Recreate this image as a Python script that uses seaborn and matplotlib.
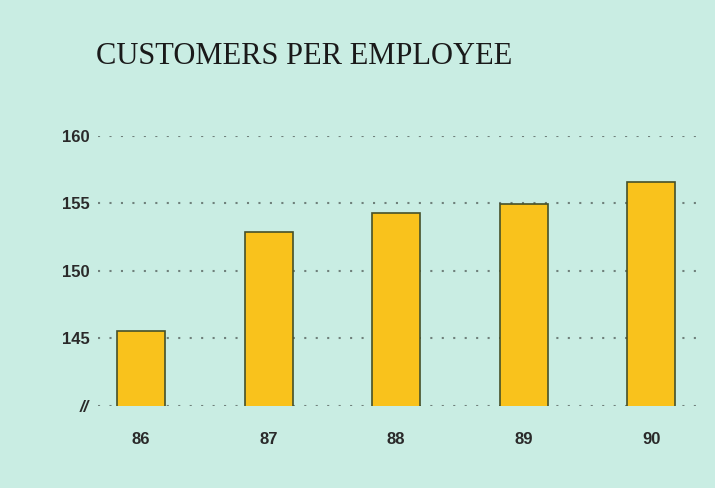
import matplotlib
matplotlib.use("Agg")
import matplotlib.pyplot as plt
import seaborn as sns
import pandas as pd

years = ["86", "87", "88", "89", "90"]
customers = [145.55, 152.9, 154.3, 154.95, 156.6]
ytick_values = [140, 145, 150, 155, 160]
ytick_labels = ["//", "145", "150", "155", "160"]
title = "CUSTOMERS PER EMPLOYEE"

bg = "#c9ede3"
sns.set_theme(style="white")
plt.rcParams["font.family"] = ["Liberation Sans", "DejaVu Sans"]

fig = plt.figure(figsize=(7.15, 4.88), dpi=100, facecolor=bg)
ax = fig.add_axes([0.1366, 0.1687, 0.975 - 0.1366, 0.7213 - 0.1687])
ax.set_facecolor(bg)

df = pd.DataFrame({"year": years, "customers": customers})
sns.barplot(data=df, x="year", y="customers", color="#f9c21c", width=0.376,
            edgecolor="#46502a", linewidth=1.2, saturation=1, ax=ax, zorder=3)

ax.set_ylim(140, 160)
ax.set_xlim(-0.34, 4.36)
ax.set_yticks(ytick_values)
ax.set_yticklabels(ytick_labels)
for y in ytick_values:
    ax.axhline(y, color="#6f807b", linestyle=(0, (1, 4.5)), linewidth=1.5, zorder=1)

for s in ax.spines.values():
    s.set_visible(False)
ax.tick_params(axis="both", length=0, labelsize=12, labelcolor="#2a2a2a")
ax.tick_params(axis="y", pad=6)
ax.tick_params(axis="x", pad=19)
for lab in ax.get_yticklabels() + ax.get_xticklabels():
    lab.set_fontweight("bold")
ax.get_yticklabels()[0].set_fontstyle("italic")
ax.set_xlabel("")
ax.set_ylabel("")

fig.text(0.134, 0.885, title, family=["Liberation Serif", "DejaVu Serif"],
         fontsize=22, color="#1a1a1a", ha="left", va="center")

fig.savefig("out.png", dpi=100, facecolor=bg)
